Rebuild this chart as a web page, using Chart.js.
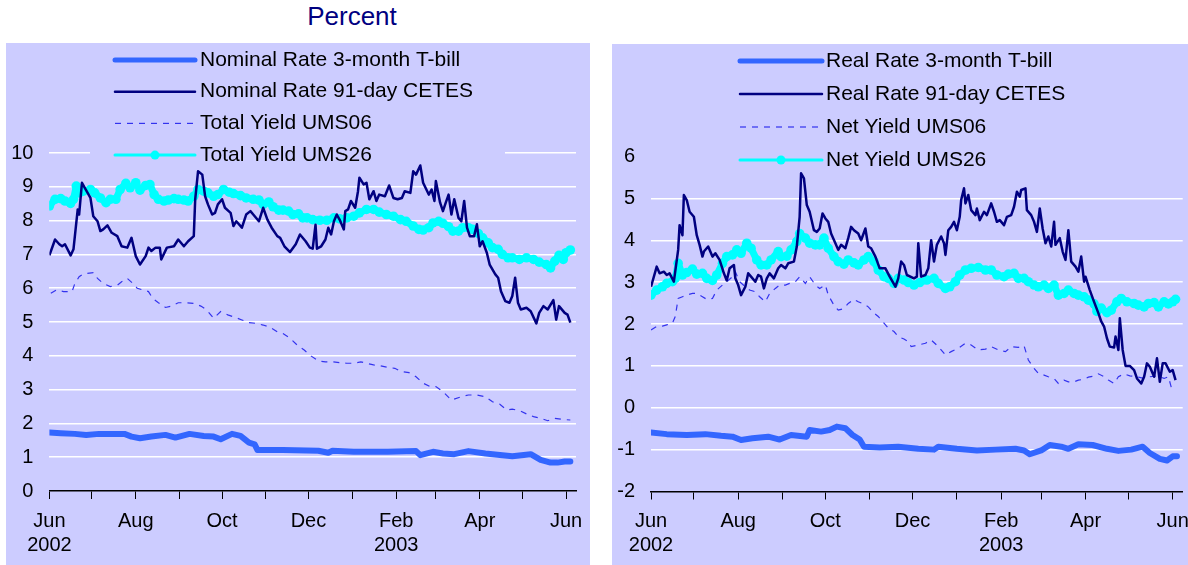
<!DOCTYPE html>
<html>
<head>
<meta charset="utf-8">
<script src="https://cdn.jsdelivr.net/npm/chart.js@4.4.1/dist/chart.umd.min.js"></script>
<style>
  html, body { margin: 0; padding: 0; background: #fff; }
  body { width: 1188px; height: 565px; position: relative; overflow: hidden; font-family: "Liberation Sans", Arial, sans-serif; }
  #title { position: absolute; left: 252px; width: 200px; top: 1px; line-height: 30px; text-align: center; font-size: 26px; color: #000080; }
  .panel { position: absolute; background: #CCCCFF; }
  #leftPanel { left: 6px; top: 43px; width: 584px; height: 522px; }
  #rightPanel { left: 612px; top: 44px; width: 576px; height: 521px; }
  canvas { display: block; }
</style>
</head>
<body>
<div id="title">Percent</div>
<div class="panel" id="leftPanel"><canvas id="leftChart" width="584" height="522"></canvas></div>
<div class="panel" id="rightPanel"><canvas id="rightChart" width="576" height="521"></canvas></div>

<script>
// x values are days counted from 1 Jun 2002
const tickDays = [0, 30, 61, 92, 122, 153, 183, 214, 245, 273, 304, 334, 365];
const tickLabels = [['Jun', '2002'], '', 'Aug', '', 'Oct', '', 'Dec', '', ['Feb', '2003'], '', 'Apr', '', 'Jun'];

const leftLabels = ['Nominal Rate 3-month T-bill', 'Nominal Rate 91-day CETES', 'Total Yield UMS06', 'Total Yield UMS26'];
const rightLabels = ['Real Rate 3-month T-bill', 'Real Rate 91-day CETES', 'Net Yield UMS06', 'Net Yield UMS26'];

// ---- left panel: nominal rates / total yields ----
const nomBillDays = [0, 8, 18, 26, 35, 53, 58, 64, 72, 82, 89, 99, 109, 116, 121, 129, 135, 141, 145, 147, 165, 190, 197, 200, 215, 239, 259, 262, 271, 278, 286, 296, 308, 320, 327, 340, 347, 354, 359, 364, 368];
const nomBill = [1.73, 1.71, 1.69, 1.66, 1.69, 1.69, 1.61, 1.56, 1.61, 1.66, 1.58, 1.69, 1.63, 1.61, 1.53, 1.69, 1.63, 1.43, 1.38, 1.21, 1.21, 1.19, 1.13, 1.19, 1.16, 1.16, 1.18, 1.06, 1.16, 1.11, 1.09, 1.18, 1.11, 1.06, 1.03, 1.09, 0.92, 0.84, 0.84, 0.87, 0.87];

const nomCetesDays = [0, 4, 7, 9, 11, 15, 17, 20, 21, 23, 25, 29, 31, 34, 36, 38, 41, 44, 48, 51, 55, 58, 61, 64, 68, 70, 72, 75, 78, 79, 83, 88, 91, 95, 98, 102, 103, 105, 108, 110, 112, 115, 117, 119, 122, 124, 128, 130, 132, 136, 139, 142, 144, 148, 151, 154, 157, 161, 163, 166, 170, 174, 177, 181, 184, 186, 188, 189, 192, 195, 197, 199, 201, 203, 205, 208, 209, 211, 213, 216, 218, 219, 222, 224, 226, 229, 231, 233, 237, 240, 243, 246, 249, 251, 255, 257, 259, 262, 264, 268, 270, 272, 273, 276, 278, 280, 282, 284, 286, 289, 291, 293, 295, 297, 300, 302, 304, 306, 309, 311, 315, 317, 319, 322, 325, 327, 329, 331, 333, 337, 340, 344, 346, 349, 352, 356, 358, 360, 364, 366, 368];
const nomCetes = [6.97, 7.44, 7.3, 7.24, 7.3, 6.97, 7.15, 8.33, 8.18, 9.12, 8.97, 8.67, 8.13, 7.98, 7.69, 7.74, 7.86, 7.64, 7.54, 7.24, 7.2, 7.49, 6.95, 6.7, 6.95, 7.2, 7.1, 7.2, 7.2, 6.85, 7.2, 7.24, 7.44, 7.24, 7.39, 7.54, 8.63, 9.46, 9.36, 8.72, 8.48, 8.18, 8.23, 8.48, 8.63, 8.38, 8.23, 7.84, 7.98, 7.79, 8.18, 8.28, 8.18, 7.98, 8.38, 8.03, 7.79, 7.54, 7.49, 7.24, 7.07, 7.3, 7.59, 7.39, 7.2, 7.17, 7.88, 7.17, 7.24, 7.44, 7.79, 7.59, 7.98, 8.18, 8.03, 7.74, 8.28, 8.33, 8.58, 8.38, 8.87, 9.27, 9.07, 9.12, 8.63, 8.87, 8.58, 8.77, 8.72, 9.04, 8.67, 8.63, 8.67, 8.87, 8.82, 9.46, 9.36, 9.63, 9.12, 8.77, 8.92, 8.58, 9.17, 8.53, 8.28, 8.53, 8.77, 8.18, 8.63, 8.08, 7.98, 8.58, 7.79, 7.54, 7.54, 7.89, 7.24, 7.39, 7.05, 6.7, 6.41, 6.31, 5.91, 5.62, 5.57, 5.77, 6.31, 5.57, 5.37, 5.42, 5.32, 4.96, 5.27, 5.47, 5.37, 5.65, 5.07, 5.47, 5.27, 5.22, 4.98];

const ums06TotalDays = [1, 5, 10, 16, 18, 21, 24, 31, 34, 38, 43, 48, 51, 55, 59, 62, 66, 70, 73, 77, 82, 86, 91, 96, 102, 107, 111, 116, 121, 126, 131, 136, 141, 146, 151, 156, 161, 165, 170, 175, 180, 185, 190, 195, 200, 205, 210, 215, 220, 224, 229, 234, 239, 244, 249, 254, 259, 264, 269, 273, 278, 284, 291, 296, 302, 308, 313, 318, 323, 327, 332, 337, 342, 347, 352, 357, 362, 368];
const ums06Total = [5.85, 5.95, 5.9, 5.9, 6.14, 6.34, 6.42, 6.46, 6.29, 6.14, 6.05, 6.09, 6.19, 6.29, 6.14, 6.0, 5.95, 5.9, 5.7, 5.57, 5.43, 5.47, 5.57, 5.57, 5.55, 5.47, 5.36, 5.11, 5.31, 5.21, 5.14, 5.06, 4.98, 4.96, 4.91, 4.84, 4.71, 4.66, 4.52, 4.32, 4.17, 3.99, 3.85, 3.82, 3.82, 3.8, 3.78, 3.78, 3.82, 3.78, 3.73, 3.7, 3.66, 3.63, 3.53, 3.5, 3.38, 3.19, 3.09, 3.09, 2.94, 2.69, 2.79, 2.84, 2.84, 2.79, 2.64, 2.57, 2.4, 2.42, 2.38, 2.28, 2.2, 2.15, 2.08, 2.15, 2.12, 2.1];

const ums26TotalDays = [0, 4, 8, 11, 15, 17, 19, 21, 24, 29, 32, 36, 40, 43, 47, 50, 54, 57, 61, 64, 68, 71, 74, 77, 81, 84, 88, 91, 95, 98, 102, 105, 109, 112, 116, 119, 123, 127, 130, 135, 139, 144, 148, 151, 155, 158, 162, 165, 169, 172, 176, 179, 182, 186, 191, 196, 201, 205, 210, 215, 219, 224, 229, 233, 238, 243, 248, 252, 257, 261, 264, 268, 271, 275, 278, 282, 285, 289, 292, 296, 299, 303, 306, 310, 313, 317, 320, 324, 327, 332, 337, 342, 346, 351, 354, 357, 360, 363, 365, 368];
const ums26Total = [8.43, 8.63, 8.65, 8.58, 8.51, 8.63, 9.02, 8.82, 8.87, 8.92, 8.82, 8.67, 8.53, 8.63, 8.63, 8.92, 9.1, 8.97, 9.12, 8.9, 9.04, 9.07, 8.77, 8.63, 8.58, 8.61, 8.65, 8.63, 8.61, 8.58, 8.72, 8.92, 8.87, 8.82, 8.72, 8.77, 8.92, 8.84, 8.8, 8.74, 8.67, 8.63, 8.61, 8.48, 8.55, 8.41, 8.31, 8.31, 8.28, 8.18, 8.2, 8.08, 8.08, 8.03, 8.01, 8.01, 8.08, 8.05, 8.08, 8.13, 8.23, 8.33, 8.33, 8.25, 8.18, 8.13, 8.03, 7.98, 7.84, 7.74, 7.72, 7.79, 7.93, 7.98, 7.92, 7.82, 7.69, 7.69, 7.79, 7.79, 7.74, 7.62, 7.49, 7.34, 7.2, 7.15, 7.0, 6.9, 6.9, 6.85, 6.9, 6.85, 6.77, 6.7, 6.6, 6.8, 6.97, 6.85, 7.05, 7.13];

// ---- right panel: real rates / net yields ----
const realBillDays = [0, 11, 25, 38, 49, 57, 63, 71, 82, 90, 98, 109, 111, 119, 125, 130, 136, 141, 146, 149, 160, 173, 187, 198, 201, 214, 228, 241, 255, 261, 265, 273, 279, 287, 292, 299, 309, 319, 327, 336, 344, 349, 356, 361, 365, 368];
const realBill = [-0.59, -0.63, -0.65, -0.63, -0.67, -0.69, -0.77, -0.73, -0.69, -0.76, -0.65, -0.69, -0.53, -0.57, -0.53, -0.45, -0.49, -0.65, -0.76, -0.93, -0.95, -0.93, -0.98, -1.0, -0.93, -0.98, -1.02, -1.0, -0.98, -1.02, -1.11, -1.02, -0.89, -0.93, -0.98, -0.87, -0.89, -0.98, -1.03, -1.0, -0.93, -1.08, -1.22, -1.26, -1.16, -1.16];

const realCetesDays = [0, 4, 6, 9, 11, 13, 16, 19, 20, 22, 23, 25, 27, 30, 32, 34, 36, 37, 40, 43, 45, 48, 51, 53, 55, 58, 59, 61, 63, 66, 68, 70, 73, 75, 77, 79, 81, 83, 86, 89, 91, 94, 96, 100, 102, 104, 105, 107, 109, 111, 114, 116, 118, 120, 122, 124, 126, 129, 131, 133, 136, 138, 140, 142, 145, 147, 150, 152, 154, 157, 160, 164, 167, 171, 173, 175, 177, 179, 184, 186, 187, 189, 192, 194, 196, 198, 200, 203, 205, 206, 208, 210, 212, 214, 216, 217, 219, 220, 222, 224, 227, 228, 230, 233, 235, 238, 240, 242, 244, 247, 249, 252, 254, 256, 258, 259, 262, 263, 266, 268, 270, 272, 274, 276, 278, 280, 282, 283, 286, 288, 290, 292, 294, 297, 299, 301, 303, 304, 307, 310, 313, 315, 317, 319, 321, 324, 325, 327, 328, 330, 332, 335, 338, 340, 343, 345, 347, 349, 352, 354, 356, 358, 360, 363, 365, 367];
const realCetes = [2.89, 3.37, 3.21, 3.25, 3.17, 3.21, 3.01, 3.77, 4.36, 4.12, 5.08, 4.96, 4.68, 4.56, 4.12, 3.89, 3.61, 3.73, 3.85, 3.61, 3.69, 3.53, 3.21, 3.04, 3.33, 3.41, 3.09, 2.93, 2.69, 2.89, 3.21, 3.13, 3.01, 3.17, 3.13, 2.85, 3.09, 3.21, 3.09, 3.33, 3.41, 3.33, 3.45, 3.49, 3.85, 4.56, 5.6, 5.48, 4.84, 4.68, 4.24, 4.2, 4.28, 4.64, 4.52, 4.44, 4.16, 3.93, 3.77, 3.89, 3.81, 4.05, 4.32, 4.24, 4.16, 4.0, 4.28, 3.85, 3.81, 3.61, 3.33, 3.33, 3.13, 2.89, 3.09, 3.49, 3.41, 3.17, 3.09, 3.13, 3.93, 3.13, 3.17, 3.33, 4.0, 3.49, 3.89, 4.09, 3.93, 3.65, 4.24, 4.32, 4.44, 4.24, 4.56, 4.96, 5.24, 4.88, 5.08, 4.72, 4.6, 4.76, 4.48, 4.68, 4.6, 4.88, 4.68, 4.44, 4.48, 4.36, 4.56, 4.6, 4.8, 5.16, 5.04, 5.2, 5.24, 4.72, 4.6, 4.44, 4.2, 4.76, 4.28, 3.93, 4.09, 3.85, 4.44, 3.89, 4.05, 3.73, 3.53, 4.24, 3.49, 3.37, 3.25, 3.61, 3.01, 3.13, 2.81, 2.53, 2.26, 2.06, 1.94, 1.66, 1.46, 1.44, 1.7, 1.38, 2.14, 1.38, 1.0, 1.0, 0.9, 0.7, 0.58, 0.74, 1.06, 0.98, 0.74, 1.18, 0.62, 1.06, 1.06, 0.86, 0.9, 0.66];

const ums06NetDays = [0, 4, 8, 11, 15, 17, 19, 22, 25, 29, 32, 36, 39, 43, 46, 50, 53, 57, 59, 62, 66, 69, 73, 76, 80, 83, 87, 90, 94, 97, 101, 104, 108, 111, 115, 118, 122, 124, 128, 131, 135, 138, 142, 145, 149, 152, 156, 159, 163, 166, 170, 173, 177, 180, 182, 187, 192, 196, 201, 206, 210, 215, 220, 224, 229, 234, 238, 243, 248, 252, 257, 261, 264, 268, 271, 275, 278, 282, 285, 289, 292, 296, 299, 303, 306, 310, 313, 317, 320, 324, 327, 331, 335, 340, 345, 349, 354, 359, 362, 364, 366];
const ums06Net = [1.86, 1.94, 1.95, 1.98, 2.02, 2.18, 2.61, 2.65, 2.69, 2.73, 2.73, 2.65, 2.59, 2.61, 2.81, 2.93, 3.01, 3.13, 3.25, 3.01, 2.89, 2.81, 2.77, 2.65, 2.53, 2.73, 2.85, 2.93, 2.93, 2.97, 3.01, 3.13, 2.97, 3.13, 2.93, 2.85, 2.93, 2.69, 2.45, 2.33, 2.37, 2.49, 2.59, 2.53, 2.48, 2.41, 2.26, 2.18, 2.02, 1.9, 1.82, 1.7, 1.64, 1.58, 1.46, 1.5, 1.54, 1.62, 1.46, 1.26, 1.34, 1.42, 1.54, 1.5, 1.38, 1.4, 1.46, 1.38, 1.34, 1.46, 1.44, 1.48, 1.14, 0.94, 0.82, 0.78, 0.74, 0.7, 0.58, 0.66, 0.62, 0.62, 0.66, 0.68, 0.73, 0.76, 0.81, 0.74, 0.66, 0.58, 0.74, 0.81, 0.76, 0.74, 0.7, 0.74, 0.76, 0.7, 0.74, 0.49, 0.43];

const ums26NetDays = [0, 4, 8, 11, 15, 17, 19, 22, 25, 29, 32, 36, 39, 43, 46, 50, 53, 57, 60, 63, 67, 70, 74, 77, 81, 84, 89, 91, 95, 98, 102, 104, 108, 111, 115, 118, 121, 124, 128, 131, 135, 138, 142, 145, 149, 152, 156, 159, 163, 166, 170, 173, 177, 180, 184, 188, 193, 198, 201, 206, 209, 213, 216, 220, 224, 229, 234, 238, 242, 247, 250, 254, 257, 261, 264, 268, 271, 275, 278, 282, 285, 289, 292, 296, 299, 303, 306, 310, 312, 315, 319, 322, 326, 329, 333, 338, 341, 345, 348, 352, 355, 359, 362, 365, 367];
const ums26Net = [2.69, 2.81, 2.89, 2.97, 3.01, 3.09, 3.45, 3.17, 3.23, 3.31, 3.19, 3.21, 3.09, 3.04, 3.17, 3.45, 3.61, 3.65, 3.77, 3.69, 3.93, 3.81, 3.53, 3.41, 3.41, 3.53, 3.73, 3.61, 3.62, 3.77, 3.97, 4.16, 4.05, 3.93, 3.89, 3.89, 4.05, 3.81, 3.61, 3.49, 3.43, 3.53, 3.46, 3.41, 3.53, 3.61, 3.49, 3.29, 3.13, 3.09, 2.97, 3.09, 3.05, 2.99, 2.93, 2.99, 3.05, 3.09, 2.97, 2.85, 2.89, 3.01, 3.17, 3.29, 3.33, 3.35, 3.29, 3.29, 3.17, 3.13, 3.19, 3.21, 3.09, 3.09, 3.01, 2.93, 2.89, 2.93, 2.85, 2.93, 2.69, 2.73, 2.81, 2.73, 2.69, 2.65, 2.57, 2.48, 2.3, 2.38, 2.27, 2.33, 2.53, 2.61, 2.53, 2.49, 2.45, 2.41, 2.49, 2.51, 2.41, 2.53, 2.48, 2.53, 2.59];

const PANEL_BG = '#CCCCFF';
const FONT_FAMILY = '"Liberation Sans", Arial, sans-serif';

const pts = (days, vals) => days.map((d, i) => ({ x: d, y: vals[i] }));

// line styles shared by both panels (same order as the legend)
const seriesStyles = [
    { borderColor: '#3366FF', borderWidth: 6, borderCapStyle: 'round', borderJoinStyle: 'round', pointRadius: 0, legendWidth: 5 },
    { borderColor: '#000080', borderWidth: 2.5, borderJoinStyle: 'round', pointRadius: 0, legendWidth: 2.5 },
    { borderColor: '#3333EE', borderWidth: 1.2, borderDash: [6, 6], pointRadius: 0, legendWidth: 1.2 },
    { borderColor: '#00FFFF', borderWidth: 7, borderJoinStyle: 'round', borderCapStyle: 'round', pointRadius: 4.8, pointBackgroundColor: '#00FFFF', pointBorderWidth: 0, legendWidth: 3, legendDot: 4.5 }
];

// legend drawn as a block of rows inside the plot, on top of the grid
const panelLegend = {
    id: 'panelLegend',
    beforeDatasetsDraw(chart, args, opts) {
        const ctx = chart.ctx;
        ctx.save();
        ctx.fillStyle = PANEL_BG;
        ctx.fillRect(opts.boxLeft, 0, opts.boxWidth, opts.boxBottom);
        chart.data.datasets.forEach((ds, i) => {
            const y = opts.top + i * opts.rowGap;
            const x0 = opts.left;
            const x1 = opts.left + opts.sampleLen;
            ctx.beginPath();
            ctx.strokeStyle = ds.borderColor;
            ctx.lineWidth = ds.legendWidth;
            ctx.lineCap = ds.borderDash ? 'butt' : 'round';
            ctx.setLineDash(ds.borderDash || []);
            ctx.moveTo(x0, y);
            ctx.lineTo(x1, y);
            ctx.stroke();
            ctx.setLineDash([]);
            if (ds.legendDot) {
                ctx.beginPath();
                ctx.fillStyle = ds.pointBackgroundColor;
                ctx.arc((x0 + x1) / 2, y, ds.legendDot, 0, Math.PI * 2);
                ctx.fill();
            }
            ctx.fillStyle = '#000';
            ctx.font = opts.font;
            ctx.textBaseline = 'middle';
            ctx.textAlign = 'left';
            ctx.fillText(ds.label, x1 + opts.textGap, y);
        });
        ctx.restore();
    }
};

function makeChart(canvasId, labels, series, yMin, yMax, frame, legendOpts) {
    const datasets = series.map((s, i) => Object.assign({
        label: labels[i],
        data: pts(s[0], s[1]),
        tension: 0,
        fill: false
    }, seriesStyles[i]));

    return new Chart(document.getElementById(canvasId), {
        type: 'line',
        data: { datasets: datasets },
        plugins: [panelLegend],
        options: {
            responsive: false,
            animation: false,
            events: [],
            layout: { padding: { left: 0, right: frame.right, top: frame.top, bottom: 0 } },
            plugins: {
                legend: { display: false },
                tooltip: { enabled: false },
                panelLegend: legendOpts
            },
            scales: {
                x: {
                    type: 'linear',
                    min: 0,
                    max: 372,
                    afterBuildTicks: scale => { scale.ticks = tickDays.map(v => ({ value: v })); },
                    afterFit: scale => {
                        scale.height = frame.xHeight;
                        scale.paddingLeft = 0;
                        scale.paddingRight = 0;
                    },
                    grid: { drawOnChartArea: false, drawTicks: true, tickLength: 8, color: '#000', lineWidth: 1 },
                    border: { display: true, color: '#000', width: 1.5 },
                    ticks: {
                        autoSkip: false,
                        maxRotation: 0,
                        padding: 10,
                        color: '#000',
                        font: { family: FONT_FAMILY, size: 20, lineHeight: 1.2 },
                        callback: (value, index) => tickLabels[index]
                    }
                },
                y: {
                    min: yMin,
                    max: yMax,
                    afterFit: scale => { scale.width = frame.yWidth; },
                    grid: {
                        drawTicks: false,
                        lineWidth: 1.5,
                        color: c => (c.tick.value === yMin || c.tick.value === frame.hideGrid) ? 'rgba(0,0,0,0)' : '#FFFFFF'
                    },
                    border: { display: false },
                    ticks: {
                        stepSize: 1,
                        padding: 16,
                        color: '#000',
                        font: { family: FONT_FAMILY, size: 20 }
                    }
                }
            }
        }
    });
}

makeChart('leftChart', leftLabels, [
    [nomBillDays, nomBill],
    [nomCetesDays, nomCetes],
    [ums06TotalDays, ums06Total],
    [ums26TotalDays, ums26Total]
], 0, 10,
    { right: 14, top: 110, xHeight: 74, yWidth: 43.4, hideGrid: null },
    { boxLeft: 84, boxWidth: 415, boxBottom: 124, left: 109, sampleLen: 80, textGap: 5, top: 17, rowGap: 31.7, font: '21px ' + FONT_FAMILY });

makeChart('rightChart', rightLabels, [
    [realBillDays, realBill],
    [realCetesDays, realCetes],
    [ums06NetDays, ums06Net],
    [ums26NetDays, ums26Net]
], -2, 6,
    { right: 5.3, top: 112.5, xHeight: 73.5, yWidth: 39, hideGrid: 6 },
    { boxLeft: 100, boxWidth: 400, boxBottom: 125, left: 128, sampleLen: 82, textGap: 4, top: 17, rowGap: 33, font: '21px ' + FONT_FAMILY });
</script>
</body>
</html>
